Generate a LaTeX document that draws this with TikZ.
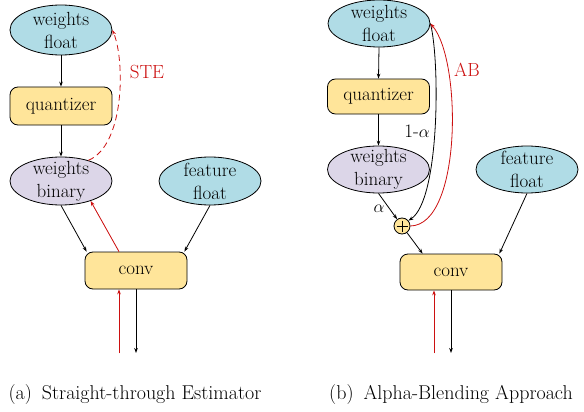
\documentclass[tikz,border=0pt]{standalone}
\usetikzlibrary{shapes.geometric,arrows.meta,calc}
\definecolor{wfblue}{RGB}{176,220,230}
\definecolor{qyellow}{RGB}{255,229,154}
\definecolor{wbpurple}{RGB}{220,214,232}
\definecolor{stered}{RGB}{204,16,16}
\begin{document}
\begin{tikzpicture}[x=1pt,y=-1pt,
  every node/.style={font=\rmfamily\fontsize{19}{23}\selectfont},
  ell/.style={ellipse,draw,line width=0.8pt,inner sep=0pt,minimum width=102pt},
  rbox/.style={rectangle,rounded corners=8pt,draw,line width=0.8pt,fill=qyellow,inner sep=0pt,minimum width=102pt},
  arr/.style={line width=0.8pt,-{Stealth[length=5pt,width=3.6pt]}},
  rarr/.style={arr,draw=stered,fill=stered},
  lab/.style={label={[align=center,font=\rmfamily\fontsize{19}{23}\selectfont]center:#1}},
  captext/.style={font=\rmfamily\fontsize{20}{24}\selectfont}
]
\useasboundingbox (0,0) rectangle (584,412);

% ---------------- left panel ----------------
\node[ell,fill=wfblue,minimum height=50pt,lab={weights\\float}] (wfL) at (61,30) {};
\node[rbox,minimum height=38pt] (qL) at (61,106) {quantizer};
\node[ell,fill=wbpurple,minimum height=48pt,lab={weights\\binary}] (wbL) at (61,181) {};
\node[ell,fill=wfblue,minimum height=48pt,lab={feature\\float}] (ffL) at (210,181) {};
\node[rbox,minimum height=37pt] (convL) at (136,270.5) {conv};
\coordinate (inL) at (119,353);
\coordinate (outL) at (136,353);

\draw[arr] (wfL.south) -- (qL.north);
\draw[arr] (qL.south) -- (wbL.north);
\draw[arr] (wbL.south) -- ($(convL.north west)+(2,0)$);
\draw[arr] (ffL.south) -- ($(convL.north east)+(-3,0)$);
\draw[rarr] ($(convL.north)+(-17,0)$) -- (wbL.-34);
\draw[rarr] (inL) -- (inL |- convL.south);
\draw[arr] (convL.south) -- (outL);
\draw[rarr,dash pattern=on 6pt off 4pt,fill=none] (wbL.37) .. controls (125,145) and (125,60) .. (wfL.east);
\node[text=stered] (steL) at (147,72) {STE};

% ---------------- right panel ----------------
\node[ell,fill=wfblue,minimum height=47pt,lab={weights\\float}] (wfR) at (379,23.5) {};
\node[rbox,minimum height=35pt] (qR) at (378.5,96.5) {quantizer};
\node[ell,fill=wbpurple,minimum height=47pt,lab={weights\\binary}] (wbR) at (378.5,169.5) {};
\node[ell,fill=wfblue,minimum height=47pt,lab={feature\\float}] (ffR) at (527,169.5) {};
\node[circle,draw,line width=0.8pt,fill=qyellow,minimum size=16pt,inner sep=0pt] (plus) at (402,226) {};
\draw[line width=0.8pt] ($(plus.center)+(-5.5,0)$) -- ($(plus.center)+(5.5,0)$)
                        ($(plus.center)+(0,-5.5)$) -- ($(plus.center)+(0,5.5)$);
\node[rbox,minimum height=36pt] (convR) at (451,272) {conv};
\coordinate (inR) at (434,353);
\coordinate (outR) at (451,353);

\draw[arr] (wfR.south) -- (qR.north);
\draw[arr] (qR.south) -- (wbR.north);
\draw[arr] (wbR.south) -- (plus);
\draw[arr] (plus) -- ($(convR.north west)+(23,0)$);
\draw[arr] (ffR.south) -- ($(convR.north east)+(-3,0)$);
\draw[arr] (wfR.east) .. controls (440,60) and (440,200) .. (plus.40);
\draw[rarr,fill=none] (plus.east) .. controls (462,225) and (462,60) .. (wfR.east);
\draw[rarr] (inR) -- (inR |- convR.south);
\draw[arr] (convR.south) -- (outR);
\node[text=stered] (abR) at (467,70) {AB};
\node (onema) at (417,131) {1-$\alpha$};
\node (alph) at (379,209) {$\alpha$};

% ---------------- captions ----------------
\node[captext] (capA) at (135,395) {(a)\enspace Straight-through Estimator};
\node[captext] (capB) at (451,395) {(b)\enspace Alpha-Blending Approach};
\end{tikzpicture}
\end{document}
